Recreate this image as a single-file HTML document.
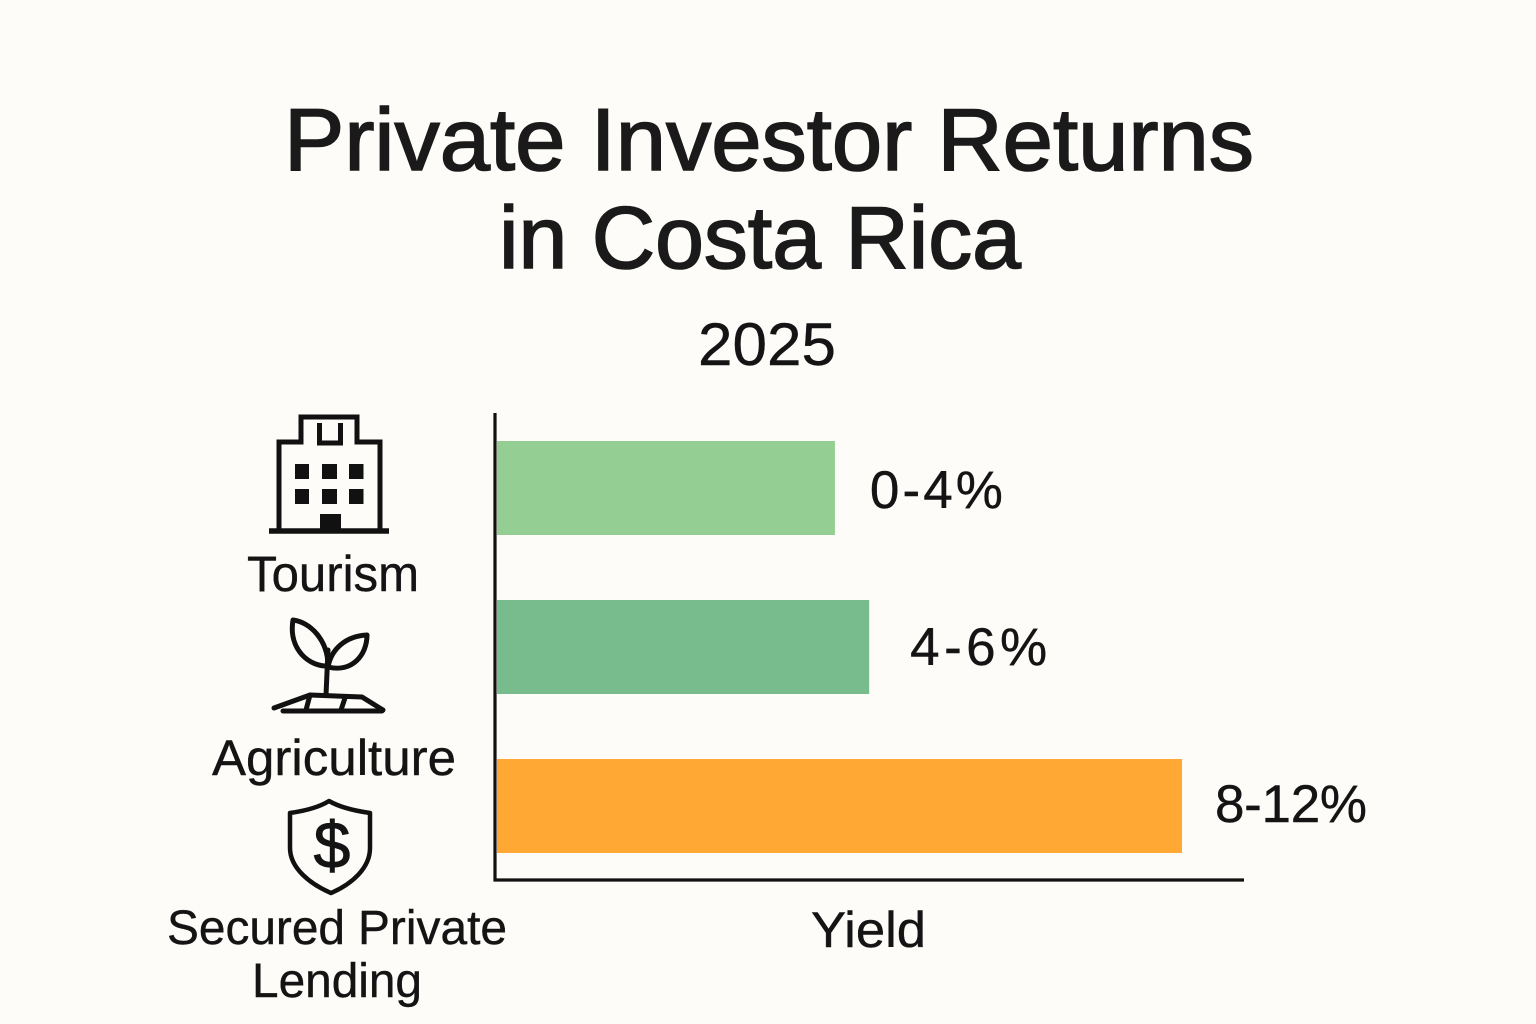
<!DOCTYPE html>
<html lang="en">
<head>
<meta charset="utf-8">
<title>Private Investor Returns in Costa Rica</title>
<style>
html,body{margin:0;padding:0;background:#fdfcf9;}
svg{display:block;}
text{font-family:"Liberation Sans",sans-serif;fill:#141414;stroke:#141414;stroke-width:0.4;}
</style>
</head>
<body>
<svg id="chart" xmlns="http://www.w3.org/2000/svg" width="1536" height="1024" viewBox="0 0 1536 1024">
  <rect x="0" y="0" width="1536" height="1024" fill="#fdfcf9"/>

  <text x="284" y="170" font-size="88" textLength="970" lengthAdjust="spacingAndGlyphs" style="stroke-width:1.6;fill:#1a1a1a;stroke:#1a1a1a">Private Investor Returns</text>
  <text x="499" y="268" font-size="88" textLength="522" lengthAdjust="spacingAndGlyphs" style="stroke-width:1.6;fill:#1a1a1a;stroke:#1a1a1a">in Costa Rica</text>
  <text x="698" y="365" font-size="60" textLength="138" lengthAdjust="spacingAndGlyphs">2025</text>

  <g id="bars"></g>
  <g id="values"></g>

  <line x1="495" y1="413" x2="495" y2="881.5" stroke="#111" stroke-width="3.2"/>
  <line x1="493.500" y1="880" x2="1244" y2="880" stroke="#111" stroke-width="3.2"/>
  <text x="811" y="947" font-size="50" textLength="115" lengthAdjust="spacingAndGlyphs">Yield</text>

  <g>
    <path d="M269 531H389" stroke="#111" stroke-width="5.500" fill="none"/>
    <path d="M279 531V442H301V417H357V442H380V531" stroke="#111" stroke-width="5" fill="none"/>
    <path d="M319.500 423V443H340.500V423" stroke="#111" stroke-width="5" fill="none"/>
    <g fill="#111">
      <rect x="295" y="464" width="14" height="15"/>
      <rect x="322" y="464" width="15" height="15"/>
      <rect x="349" y="464" width="14.500" height="15"/>
      <rect x="295" y="489" width="14" height="15"/>
      <rect x="322" y="489" width="15" height="15"/>
      <rect x="349" y="489" width="14.500" height="15"/>
      <rect x="320" y="514" width="21" height="16"/>
    </g>
  </g>
  <text x="247" y="591" font-size="50" textLength="172" lengthAdjust="spacingAndGlyphs">Tourism</text>

  <g fill="none" stroke="#111" stroke-width="5" stroke-linecap="round" stroke-linejoin="round">
    <path d="M293 620C310 622 328 640 328 666C310 667 288 650 293 620Z"/>
    <path d="M328 667C331 650 345 636 367 635C367 655 352 673 328 667Z"/>
    <path d="M328 650L326 695"/>
    <path d="M274 708L310 695L362 697L383 710"/>
    <path d="M283 711H382"/>
    <path d="M310 695L306 710M345 698L341 710"/>
  </g>
  <text x="212" y="775" font-size="50" textLength="244" lengthAdjust="spacingAndGlyphs">Agriculture</text>

  <g>
    <path d="M329 801C318 808 304 811 290 813V848C290 868 310 884 331 893C352 884 370 868 370 848V813C356 811 341 808 329 801Z" fill="none" stroke="#111" stroke-width="4.500" stroke-linejoin="round"/>
    <text x="332" y="868" font-size="66" text-anchor="middle" style="stroke-width:1">$</text>
  </g>
  <text x="167" y="944" font-size="48" textLength="178" lengthAdjust="spacingAndGlyphs">Secured</text>
  <text x="358" y="944" font-size="48" textLength="149" lengthAdjust="spacingAndGlyphs">Private</text>
  <text x="252" y="997" font-size="48" textLength="170" lengthAdjust="spacingAndGlyphs">Lending</text>
</svg>
<script>
const categories = ["Tourism", "Agriculture", "Secured Private Lending"];
const barLengths = [5.92, 6.52, 12];
const valueLabels = ["0-4%", "4-6%", "8-12%"];
const barColors = ["#94ce92", "#78bc8e", "#ffa833"];

const NS = "http://www.w3.org/2000/svg";
const barsGroup = document.getElementById("bars");
const valuesGroup = document.getElementById("values");

function xScale(v) { return 497 + v * (685 / 12); }
function yBand(i) { return 441 + i * 159; }
function labelGap(i) { return [35, 41, 33][i]; }
function labelWidth(i) { return [133, 137, 152][i]; }
function labelBaseline(i) { return 508 + i * 157; }

categories.forEach(function (cat, i) {
  const rect = document.createElementNS(NS, "rect");
  rect.setAttribute("x", xScale(0));
  rect.setAttribute("y", yBand(i));
  rect.setAttribute("width", xScale(barLengths[i]) - xScale(0));
  rect.setAttribute("height", 94);
  rect.setAttribute("fill", barColors[i]);
  
  
  barsGroup.appendChild(rect);

  const label = document.createElementNS(NS, "text");
  label.setAttribute("x", xScale(barLengths[i]) + labelGap(i));
  label.setAttribute("y", labelBaseline(i));
  label.setAttribute("font-size", 53);
  label.setAttribute("textLength", labelWidth(i));
  label.setAttribute("lengthAdjust", "spacing");
  label.textContent = valueLabels[i];
  
  
  valuesGroup.appendChild(label);
});
</script>
</body>
</html>
